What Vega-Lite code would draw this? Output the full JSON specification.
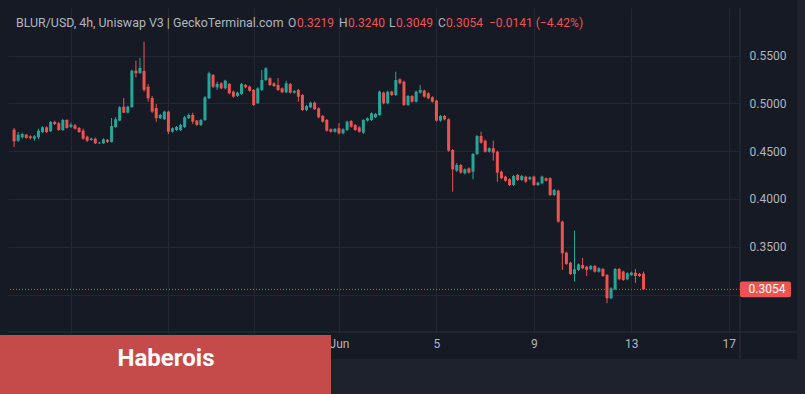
{
  "$schema": "https://vega.github.io/schema/vega-lite/v6.json",
  "width": 732,
  "height": 324,
  "autosize": {"type": "none"},
  "padding": {"left": 8, "top": 8, "right": 65, "bottom": 62},
  "background": "#161a25",
  "config": {
    "view": {"stroke": null, "fill": "#161a25"},
    "font": "Roboto",
    "axis": {"domain": false, "ticks": false, "gridColor": "#232733", "gridWidth": 1, "labelColor": "#b2b5be", "labelFontSize": 12, "labelFont": "Roboto", "title": null}
  },
  "datasets": {
    "candles": [
      {"t":"2023-05-18T16:00:00Z","o":0.4724,"h":0.4742,"l":0.4543,"c":0.4603},
      {"t":"2023-05-18T20:00:00Z","o":0.4609,"h":0.4700,"l":0.4596,"c":0.4672},
      {"t":"2023-05-19T00:00:00Z","o":0.4645,"h":0.4693,"l":0.4630,"c":0.4679},
      {"t":"2023-05-19T04:00:00Z","o":0.4672,"h":0.4679,"l":0.4630,"c":0.4638},
      {"t":"2023-05-19T08:00:00Z","o":0.4655,"h":0.4665,"l":0.4620,"c":0.4638},
      {"t":"2023-05-19T12:00:00Z","o":0.4630,"h":0.4666,"l":0.4609,"c":0.4655},
      {"t":"2023-05-19T16:00:00Z","o":0.4645,"h":0.4735,"l":0.4624,"c":0.4714},
      {"t":"2023-05-19T20:00:00Z","o":0.4700,"h":0.4760,"l":0.4690,"c":0.4749},
      {"t":"2023-05-20T00:00:00Z","o":0.4749,"h":0.4760,"l":0.4690,"c":0.4700},
      {"t":"2023-05-20T04:00:00Z","o":0.4708,"h":0.4815,"l":0.4700,"c":0.4805},
      {"t":"2023-05-20T08:00:00Z","o":0.4805,"h":0.4818,"l":0.4774,"c":0.4784},
      {"t":"2023-05-20T12:00:00Z","o":0.4791,"h":0.4805,"l":0.4711,"c":0.4721},
      {"t":"2023-05-20T16:00:00Z","o":0.4721,"h":0.4836,"l":0.4711,"c":0.4826},
      {"t":"2023-05-20T20:00:00Z","o":0.4826,"h":0.4833,"l":0.4735,"c":0.4742},
      {"t":"2023-05-21T00:00:00Z","o":0.4753,"h":0.4798,"l":0.4742,"c":0.4777},
      {"t":"2023-05-21T04:00:00Z","o":0.4770,"h":0.4784,"l":0.4725,"c":0.4735},
      {"t":"2023-05-21T08:00:00Z","o":0.4742,"h":0.4753,"l":0.4690,"c":0.4700},
      {"t":"2023-05-21T12:00:00Z","o":0.4714,"h":0.4735,"l":0.4617,"c":0.4630},
      {"t":"2023-05-21T16:00:00Z","o":0.4651,"h":0.4662,"l":0.4596,"c":0.4609},
      {"t":"2023-05-21T20:00:00Z","o":0.4617,"h":0.4641,"l":0.4606,"c":0.4630},
      {"t":"2023-05-22T00:00:00Z","o":0.4630,"h":0.4641,"l":0.4575,"c":0.4582},
      {"t":"2023-05-22T04:00:00Z","o":0.4582,"h":0.4596,"l":0.4575,"c":0.4589},
      {"t":"2023-05-22T08:00:00Z","o":0.4582,"h":0.4634,"l":0.4575,"c":0.4624},
      {"t":"2023-05-22T12:00:00Z","o":0.4617,"h":0.4627,"l":0.4585,"c":0.4596},
      {"t":"2023-05-22T16:00:00Z","o":0.4596,"h":0.4847,"l":0.4589,"c":0.4763},
      {"t":"2023-05-22T20:00:00Z","o":0.4753,"h":0.4854,"l":0.4742,"c":0.4833},
      {"t":"2023-05-23T00:00:00Z","o":0.4819,"h":0.4970,"l":0.4812,"c":0.4959},
      {"t":"2023-05-23T04:00:00Z","o":0.4965,"h":0.5056,"l":0.4899,"c":0.4902},
      {"t":"2023-05-23T08:00:00Z","o":0.4902,"h":0.4975,"l":0.4895,"c":0.4965},
      {"t":"2023-05-23T12:00:00Z","o":0.4959,"h":0.5352,"l":0.4955,"c":0.5341},
      {"t":"2023-05-23T16:00:00Z","o":0.5341,"h":0.5446,"l":0.5272,"c":0.5314},
      {"t":"2023-05-23T20:00:00Z","o":0.5317,"h":0.5474,"l":0.5307,"c":0.5370},
      {"t":"2023-05-24T00:00:00Z","o":0.5338,"h":0.5645,"l":0.5122,"c":0.5140},
      {"t":"2023-05-24T04:00:00Z","o":0.5174,"h":0.5202,"l":0.5017,"c":0.5053},
      {"t":"2023-05-24T08:00:00Z","o":0.5056,"h":0.5077,"l":0.4899,"c":0.4913},
      {"t":"2023-05-24T12:00:00Z","o":0.4951,"h":0.4993,"l":0.4808,"c":0.4844},
      {"t":"2023-05-24T16:00:00Z","o":0.4844,"h":0.4889,"l":0.4836,"c":0.4878},
      {"t":"2023-05-24T20:00:00Z","o":0.4833,"h":0.4923,"l":0.4826,"c":0.4913},
      {"t":"2023-05-25T00:00:00Z","o":0.4913,"h":0.4923,"l":0.4679,"c":0.4703},
      {"t":"2023-05-25T04:00:00Z","o":0.4703,"h":0.4749,"l":0.4693,"c":0.4739},
      {"t":"2023-05-25T08:00:00Z","o":0.4721,"h":0.4763,"l":0.4711,"c":0.4753},
      {"t":"2023-05-25T12:00:00Z","o":0.4721,"h":0.4784,"l":0.4711,"c":0.4774},
      {"t":"2023-05-25T16:00:00Z","o":0.4753,"h":0.4868,"l":0.4742,"c":0.4854},
      {"t":"2023-05-25T20:00:00Z","o":0.4844,"h":0.4895,"l":0.4836,"c":0.4878},
      {"t":"2023-05-26T00:00:00Z","o":0.4878,"h":0.4902,"l":0.4784,"c":0.4808},
      {"t":"2023-05-26T04:00:00Z","o":0.4819,"h":0.4826,"l":0.4763,"c":0.4774},
      {"t":"2023-05-26T08:00:00Z","o":0.4774,"h":0.4836,"l":0.4763,"c":0.4826},
      {"t":"2023-05-26T12:00:00Z","o":0.4826,"h":0.5074,"l":0.4815,"c":0.5063},
      {"t":"2023-05-26T16:00:00Z","o":0.5053,"h":0.5331,"l":0.5045,"c":0.5314},
      {"t":"2023-05-26T20:00:00Z","o":0.5296,"h":0.5307,"l":0.5160,"c":0.5174},
      {"t":"2023-05-27T00:00:00Z","o":0.5167,"h":0.5226,"l":0.5140,"c":0.5202},
      {"t":"2023-05-27T04:00:00Z","o":0.5209,"h":0.5220,"l":0.5146,"c":0.5157},
      {"t":"2023-05-27T08:00:00Z","o":0.5157,"h":0.5247,"l":0.5146,"c":0.5237},
      {"t":"2023-05-27T12:00:00Z","o":0.5202,"h":0.5213,"l":0.5094,"c":0.5105},
      {"t":"2023-05-27T16:00:00Z","o":0.5122,"h":0.5133,"l":0.5059,"c":0.5070},
      {"t":"2023-05-27T20:00:00Z","o":0.5077,"h":0.5122,"l":0.5066,"c":0.5111},
      {"t":"2023-05-28T00:00:00Z","o":0.5098,"h":0.5213,"l":0.5087,"c":0.5202},
      {"t":"2023-05-28T04:00:00Z","o":0.5192,"h":0.5202,"l":0.5157,"c":0.5168},
      {"t":"2023-05-28T08:00:00Z","o":0.5174,"h":0.5185,"l":0.5122,"c":0.5132},
      {"t":"2023-05-28T12:00:00Z","o":0.5140,"h":0.5150,"l":0.4972,"c":0.4983},
      {"t":"2023-05-28T16:00:00Z","o":0.5000,"h":0.5167,"l":0.4993,"c":0.5157},
      {"t":"2023-05-28T20:00:00Z","o":0.5140,"h":0.5349,"l":0.5129,"c":0.5244},
      {"t":"2023-05-29T00:00:00Z","o":0.5244,"h":0.5377,"l":0.5234,"c":0.5367},
      {"t":"2023-05-29T04:00:00Z","o":0.5262,"h":0.5272,"l":0.5181,"c":0.5192},
      {"t":"2023-05-29T08:00:00Z","o":0.5209,"h":0.5220,"l":0.5171,"c":0.5181},
      {"t":"2023-05-29T12:00:00Z","o":0.5192,"h":0.5265,"l":0.5129,"c":0.5140},
      {"t":"2023-05-29T16:00:00Z","o":0.5157,"h":0.5167,"l":0.5108,"c":0.5116},
      {"t":"2023-05-29T20:00:00Z","o":0.5116,"h":0.5237,"l":0.5105,"c":0.5209},
      {"t":"2023-05-30T00:00:00Z","o":0.5202,"h":0.5213,"l":0.5101,"c":0.5112},
      {"t":"2023-05-30T04:00:00Z","o":0.5112,"h":0.5140,"l":0.5101,"c":0.5129},
      {"t":"2023-05-30T08:00:00Z","o":0.5140,"h":0.5150,"l":0.5017,"c":0.5070},
      {"t":"2023-05-30T12:00:00Z","o":0.5087,"h":0.5098,"l":0.4920,"c":0.4930},
      {"t":"2023-05-30T16:00:00Z","o":0.4930,"h":0.4983,"l":0.4920,"c":0.4972},
      {"t":"2023-05-30T20:00:00Z","o":0.4958,"h":0.5017,"l":0.4951,"c":0.5007},
      {"t":"2023-05-31T00:00:00Z","o":0.5007,"h":0.5017,"l":0.4930,"c":0.4938},
      {"t":"2023-05-31T04:00:00Z","o":0.4948,"h":0.4958,"l":0.4844,"c":0.4854},
      {"t":"2023-05-31T08:00:00Z","o":0.4868,"h":0.4878,"l":0.4798,"c":0.4808},
      {"t":"2023-05-31T12:00:00Z","o":0.4826,"h":0.4836,"l":0.4703,"c":0.4714},
      {"t":"2023-05-31T16:00:00Z","o":0.4728,"h":0.4739,"l":0.4693,"c":0.4703},
      {"t":"2023-05-31T20:00:00Z","o":0.4703,"h":0.4742,"l":0.4693,"c":0.4732},
      {"t":"2023-06-01T00:00:00Z","o":0.4739,"h":0.4794,"l":0.4675,"c":0.4686},
      {"t":"2023-06-01T04:00:00Z","o":0.4686,"h":0.4739,"l":0.4675,"c":0.4728},
      {"t":"2023-06-01T08:00:00Z","o":0.4721,"h":0.4819,"l":0.4711,"c":0.4808},
      {"t":"2023-06-01T12:00:00Z","o":0.4815,"h":0.4826,"l":0.4745,"c":0.4756},
      {"t":"2023-06-01T16:00:00Z","o":0.4774,"h":0.4784,"l":0.4711,"c":0.4721},
      {"t":"2023-06-01T20:00:00Z","o":0.4749,"h":0.4760,"l":0.4693,"c":0.4703},
      {"t":"2023-06-02T00:00:00Z","o":0.4693,"h":0.4836,"l":0.4679,"c":0.4826},
      {"t":"2023-06-02T04:00:00Z","o":0.4819,"h":0.4854,"l":0.4808,"c":0.4844},
      {"t":"2023-06-02T08:00:00Z","o":0.4826,"h":0.4906,"l":0.4815,"c":0.4896},
      {"t":"2023-06-02T12:00:00Z","o":0.4854,"h":0.4899,"l":0.4844,"c":0.4889},
      {"t":"2023-06-02T16:00:00Z","o":0.4878,"h":0.5133,"l":0.4868,"c":0.5122},
      {"t":"2023-06-02T20:00:00Z","o":0.5111,"h":0.5122,"l":0.4990,"c":0.5000},
      {"t":"2023-06-03T00:00:00Z","o":0.5000,"h":0.5133,"l":0.4990,"c":0.5122},
      {"t":"2023-06-03T04:00:00Z","o":0.5122,"h":0.5133,"l":0.5077,"c":0.5087},
      {"t":"2023-06-03T08:00:00Z","o":0.5087,"h":0.5331,"l":0.5077,"c":0.5244},
      {"t":"2023-06-03T12:00:00Z","o":0.5251,"h":0.5262,"l":0.5199,"c":0.5210},
      {"t":"2023-06-03T16:00:00Z","o":0.5226,"h":0.5237,"l":0.4972,"c":0.4983},
      {"t":"2023-06-03T20:00:00Z","o":0.4983,"h":0.5087,"l":0.4972,"c":0.5077},
      {"t":"2023-06-04T00:00:00Z","o":0.5077,"h":0.5087,"l":0.5007,"c":0.5017},
      {"t":"2023-06-04T04:00:00Z","o":0.5017,"h":0.5133,"l":0.5007,"c":0.5122},
      {"t":"2023-06-04T08:00:00Z","o":0.5112,"h":0.5192,"l":0.5101,"c":0.5140},
      {"t":"2023-06-04T12:00:00Z","o":0.5133,"h":0.5143,"l":0.5059,"c":0.5070},
      {"t":"2023-06-04T16:00:00Z","o":0.5105,"h":0.5115,"l":0.5042,"c":0.5053},
      {"t":"2023-06-04T20:00:00Z","o":0.5063,"h":0.5074,"l":0.5007,"c":0.5017},
      {"t":"2023-06-05T00:00:00Z","o":0.5028,"h":0.5038,"l":0.4808,"c":0.4819},
      {"t":"2023-06-05T04:00:00Z","o":0.4819,"h":0.4878,"l":0.4808,"c":0.4868},
      {"t":"2023-06-05T08:00:00Z","o":0.4868,"h":0.4878,"l":0.4822,"c":0.4833},
      {"t":"2023-06-05T12:00:00Z","o":0.4833,"h":0.4843,"l":0.4494,"c":0.4505},
      {"t":"2023-06-05T16:00:00Z","o":0.4512,"h":0.4522,"l":0.4076,"c":0.4310},
      {"t":"2023-06-05T20:00:00Z","o":0.4296,"h":0.4376,"l":0.4282,"c":0.4355},
      {"t":"2023-06-06T00:00:00Z","o":0.4355,"h":0.4366,"l":0.4264,"c":0.4275},
      {"t":"2023-06-06T04:00:00Z","o":0.4268,"h":0.4320,"l":0.4254,"c":0.4310},
      {"t":"2023-06-06T08:00:00Z","o":0.4320,"h":0.4331,"l":0.4264,"c":0.4275},
      {"t":"2023-06-06T12:00:00Z","o":0.4285,"h":0.4480,"l":0.4206,"c":0.4470},
      {"t":"2023-06-06T16:00:00Z","o":0.4470,"h":0.4669,"l":0.4459,"c":0.4658},
      {"t":"2023-06-06T20:00:00Z","o":0.4658,"h":0.4703,"l":0.4578,"c":0.4588},
      {"t":"2023-06-07T00:00:00Z","o":0.4609,"h":0.4620,"l":0.4484,"c":0.4494},
      {"t":"2023-06-07T04:00:00Z","o":0.4494,"h":0.4540,"l":0.4484,"c":0.4530},
      {"t":"2023-06-07T08:00:00Z","o":0.4530,"h":0.4609,"l":0.4400,"c":0.4484},
      {"t":"2023-06-07T12:00:00Z","o":0.4494,"h":0.4505,"l":0.4180,"c":0.4275},
      {"t":"2023-06-07T16:00:00Z","o":0.4285,"h":0.4296,"l":0.4206,"c":0.4216},
      {"t":"2023-06-07T20:00:00Z","o":0.4233,"h":0.4243,"l":0.4180,"c":0.4191},
      {"t":"2023-06-08T00:00:00Z","o":0.4206,"h":0.4216,"l":0.4135,"c":0.4146},
      {"t":"2023-06-08T04:00:00Z","o":0.4146,"h":0.4251,"l":0.4135,"c":0.4240},
      {"t":"2023-06-08T08:00:00Z","o":0.4251,"h":0.4261,"l":0.4188,"c":0.4198},
      {"t":"2023-06-08T12:00:00Z","o":0.4198,"h":0.4251,"l":0.4188,"c":0.4240},
      {"t":"2023-06-08T16:00:00Z","o":0.4233,"h":0.4243,"l":0.4170,"c":0.4181},
      {"t":"2023-06-08T20:00:00Z","o":0.4206,"h":0.4237,"l":0.4195,"c":0.4226},
      {"t":"2023-06-09T00:00:00Z","o":0.4233,"h":0.4243,"l":0.4135,"c":0.4146},
      {"t":"2023-06-09T04:00:00Z","o":0.4146,"h":0.4181,"l":0.4135,"c":0.4170},
      {"t":"2023-06-09T08:00:00Z","o":0.4164,"h":0.4243,"l":0.4153,"c":0.4233},
      {"t":"2023-06-09T12:00:00Z","o":0.4216,"h":0.4226,"l":0.4181,"c":0.4191},
      {"t":"2023-06-09T16:00:00Z","o":0.4216,"h":0.4226,"l":0.4031,"c":0.4041},
      {"t":"2023-06-09T20:00:00Z","o":0.4041,"h":0.4104,"l":0.4031,"c":0.4094},
      {"t":"2023-06-10T00:00:00Z","o":0.4086,"h":0.4097,"l":0.3751,"c":0.3762},
      {"t":"2023-06-10T04:00:00Z","o":0.3762,"h":0.3772,"l":0.3257,"c":0.3431},
      {"t":"2023-06-10T08:00:00Z","o":0.3438,"h":0.3448,"l":0.3309,"c":0.3320},
      {"t":"2023-06-10T12:00:00Z","o":0.3333,"h":0.3343,"l":0.3204,"c":0.3215},
      {"t":"2023-06-10T16:00:00Z","o":0.3215,"h":0.3668,"l":0.3134,"c":0.3264},
      {"t":"2023-06-10T20:00:00Z","o":0.3257,"h":0.3327,"l":0.3247,"c":0.3316},
      {"t":"2023-06-11T00:00:00Z","o":0.3309,"h":0.3382,"l":0.3264,"c":0.3274},
      {"t":"2023-06-11T04:00:00Z","o":0.3291,"h":0.3301,"l":0.3194,"c":0.3257},
      {"t":"2023-06-11T08:00:00Z","o":0.3264,"h":0.3309,"l":0.3254,"c":0.3299},
      {"t":"2023-06-11T12:00:00Z","o":0.3299,"h":0.3309,"l":0.3229,"c":0.3239},
      {"t":"2023-06-11T16:00:00Z","o":0.3239,"h":0.3285,"l":0.3229,"c":0.3274},
      {"t":"2023-06-11T20:00:00Z","o":0.3267,"h":0.3278,"l":0.3184,"c":0.3194},
      {"t":"2023-06-12T00:00:00Z","o":0.3205,"h":0.3215,"l":0.2909,"c":0.2961},
      {"t":"2023-06-12T04:00:00Z","o":0.2961,"h":0.3076,"l":0.2951,"c":0.3065},
      {"t":"2023-06-12T08:00:00Z","o":0.3055,"h":0.3278,"l":0.3045,"c":0.3267},
      {"t":"2023-06-12T12:00:00Z","o":0.3267,"h":0.3278,"l":0.3149,"c":0.3160},
      {"t":"2023-06-12T16:00:00Z","o":0.3240,"h":0.3250,"l":0.3142,"c":0.3152},
      {"t":"2023-06-12T20:00:00Z","o":0.3160,"h":0.3233,"l":0.3149,"c":0.3222},
      {"t":"2023-06-13T00:00:00Z","o":0.3205,"h":0.3240,"l":0.3194,"c":0.3229},
      {"t":"2023-06-13T04:00:00Z","o":0.3229,"h":0.3267,"l":0.3121,"c":0.3194},
      {"t":"2023-06-13T08:00:00Z","o":0.3215,"h":0.3225,"l":0.3184,"c":0.3194},
      {"t":"2023-06-13T12:00:00Z","o":0.3219,"h":0.3240,"l":0.3049,"c":0.3054}
    ]
  },
  "layer": [
    {
      "data": {"name": "candles"},
      "mark": {"type": "rule", "strokeWidth": 1},
      "encoding": {
        "x": {
          "field": "t", "type": "temporal",
          "scale": {"type": "utc", "nice": false, "padding": 0, "domain": [{"year": 2023, "month": "May", "date": 18, "hours": 10, "utc": true}, {"year": 2023, "month": "Jun", "date": 17, "hours": 11, "utc": true}]},
          "axis": {
            "orient": "bottom", "grid": true, "labelPadding": 6, "labelOverlap": false, "labelFlush": false,
            "values": [
              {"year": 2023, "month": "May", "date": 21, "utc": true},
              {"year": 2023, "month": "May", "date": 25, "utc": true},
              {"year": 2023, "month": "May", "date": 28, "hours": 12, "utc": true},
              {"year": 2023, "month": "Jun", "date": 1, "utc": true},
              {"year": 2023, "month": "Jun", "date": 5, "utc": true},
              {"year": 2023, "month": "Jun", "date": 9, "utc": true},
              {"year": 2023, "month": "Jun", "date": 13, "utc": true},
              {"year": 2023, "month": "Jun", "date": 17, "utc": true}
            ],
            "labelExpr": "utcmonth(datum.value) == 4 ? '' : (utcdate(datum.value) == 1 ? utcFormat(datum.value, '%b') : utcFormat(datum.value, '%-d'))"
          }
        },
        "y": {
          "field": "l", "type": "quantitative",
          "scale": {"domain": [0.2608, 0.5997], "nice": false, "zero": false},
          "axis": {"orient": "right", "grid": true, "labelPadding": 9, "values": [0.30, 0.35, 0.40, 0.45, 0.50, 0.55], "labelExpr": "datum.value < 0.31 ? '' : format(datum.value, '.4f')"}
        },
        "y2": {"field": "h"},
        "color": {"condition": {"test": "datum.c >= datum.o", "value": "#26a69a"}, "value": "#ef5350"}
      }
    },
    {
      "data": {"name": "candles"},
      "mark": {"type": "bar", "width": 3},
      "encoding": {
        "x": {"field": "t", "type": "temporal"},
        "y": {"field": "o", "type": "quantitative"},
        "y2": {"field": "c"},
        "color": {"condition": {"test": "datum.c >= datum.o", "value": "#26a69a"}, "value": "#ef5350"}
      }
    },
    {
      "data": {"values": [{}]},
      "mark": {"type": "rule", "color": "#ef5350", "strokeWidth": 1, "strokeDash": [1, 2]},
      "encoding": {"y": {"datum": 0.3054, "type": "quantitative"}}
    },
    {
      "data": {"values": [{}]},
      "mark": {"type": "rect", "color": "#1e222d"},
      "encoding": {
        "x": {"datum": {"year": 2023, "month": "May", "date": 17, "hours": 16, "utc": true}, "type": "temporal"},
        "x2": {"datum": {"year": 2023, "month": "Jun", "date": 20, "hours": 13, "utc": true}},
        "y": {"datum": 0.2326, "type": "quantitative"},
        "y2": {"datum": 0.1897}
      }
    },
    {
      "data": {"values": [{}]},
      "mark": {"type": "rect", "color": "#1e222d"},
      "encoding": {
        "x": {"datum": {"year": 2023, "month": "Jun", "date": 19, "hours": 19, "minutes": 10, "utc": true}, "type": "temporal"},
        "x2": {"datum": {"year": 2023, "month": "Jun", "date": 20, "hours": 13, "utc": true}},
        "y": {"datum": 0.6186, "type": "quantitative"},
        "y2": {"datum": 0.1897}
      }
    },
    {
      "data": {"values": [{}]},
      "mark": {"type": "rule", "color": "#2a2e39", "strokeWidth": 1},
      "encoding": {
        "x": {"datum": {"year": 2023, "month": "May", "date": 18, "hours": 10, "utc": true}, "type": "temporal"},
        "x2": {"datum": {"year": 2023, "month": "Jun", "date": 19, "hours": 19, "minutes": 10, "utc": true}},
        "y": {"datum": 0.2608, "type": "quantitative"}
      }
    },
    {
      "data": {"values": [{}]},
      "mark": {"type": "rule", "color": "#2a2e39", "strokeWidth": 1},
      "encoding": {
        "x": {"datum": {"year": 2023, "month": "Jun", "date": 17, "hours": 11, "utc": true}, "type": "temporal"},
        "y": {"datum": 0.5997, "type": "quantitative"},
        "y2": {"datum": 0.2326}
      }
    },
    {
      "data": {"values": [{}]},
      "mark": {"type": "rect", "color": "#ef5350", "cornerRadius": 2},
      "encoding": {
        "x": {"datum": {"year": 2023, "month": "Jun", "date": 17, "hours": 11, "utc": true}, "type": "temporal"},
        "x2": {"datum": {"year": 2023, "month": "Jun", "date": 19, "hours": 13, "minutes": 12, "utc": true}},
        "y": {"datum": 0.3137, "type": "quantitative"},
        "y2": {"datum": 0.2971}
      }
    },
    {
      "data": {"values": [{}]},
      "mark": {"type": "text", "text": "0.3054", "color": "#ffffff", "fontSize": 12, "font": "Roboto", "align": "center", "baseline": "middle"},
      "encoding": {
        "x": {"datum": {"year": 2023, "month": "Jun", "date": 18, "hours": 13, "minutes": 36, "utc": true}, "type": "temporal"},
        "y": {"datum": 0.3054, "type": "quantitative"}
      }
    },
    {
      "data": {"values": [{}]},
      "mark": {"type": "rect", "color": "#c54b4b"},
      "encoding": {
        "x": {"datum": {"year": 2023, "month": "May", "date": 17, "hours": 16, "utc": true}, "type": "temporal"},
        "x2": {"datum": {"year": 2023, "month": "May", "date": 31, "hours": 16, "minutes": 10, "utc": true}},
        "y": {"datum": 0.2577, "type": "quantitative"},
        "y2": {"datum": 0.1897}
      }
    },
    {
      "data": {"values": [{}]},
      "mark": {"type": "text", "text": "Haberois", "color": "#ffffff", "fontSize": 24, "fontWeight": "bold", "font": "Roboto", "align": "center", "baseline": "middle"},
      "encoding": {
        "x": {"datum": {"year": 2023, "month": "May", "date": 24, "hours": 21, "minutes": 38, "utc": true}, "type": "temporal"},
        "y": {"datum": 0.2326, "type": "quantitative"}
      }
    },
    {
      "data": {"values": [{}]},
      "mark": {"type": "text", "text": "BLUR/USD, 4h, Uniswap V3 | GeckoTerminal.com", "color": "#b2b5be", "fontSize": 12.4, "font": "Roboto", "align": "left", "baseline": "middle"},
      "encoding": {
        "x": {"datum": {"year": 2023, "month": "May", "date": 18, "hours": 17, "minutes": 53, "utc": true}, "type": "temporal"},
        "y": {"datum": 0.5835, "type": "quantitative"}
      }
    },
    {
      "data": {"values": [{}]},
      "mark": {"type": "text", "text": "O", "color": "#b2b5be", "fontSize": 12, "font": "Roboto", "align": "left", "baseline": "middle"},
      "encoding": {
        "x": {"datum": {"year": 2023, "month": "May", "date": 29, "hours": 21, "minutes": 48, "utc": true}, "type": "temporal"},
        "y": {"datum": 0.5835, "type": "quantitative"}
      }
    },
    {
      "data": {"values": [{}]},
      "mark": {"type": "text", "text": "0.3219", "color": "#ef5350", "fontSize": 12, "font": "Roboto", "align": "left", "baseline": "middle"},
      "encoding": {
        "x": {"datum": {"year": 2023, "month": "May", "date": 30, "hours": 6, "minutes": 40, "utc": true}, "type": "temporal"},
        "y": {"datum": 0.5835, "type": "quantitative"}
      }
    },
    {
      "data": {"values": [{}]},
      "mark": {"type": "text", "text": "H", "color": "#b2b5be", "fontSize": 12, "font": "Roboto", "align": "left", "baseline": "middle"},
      "encoding": {
        "x": {"datum": {"year": 2023, "month": "Jun", "date": 1, "hours": 0, "minutes": 2, "utc": true}, "type": "temporal"},
        "y": {"datum": 0.5835, "type": "quantitative"}
      }
    },
    {
      "data": {"values": [{}]},
      "mark": {"type": "text", "text": "0.3240", "color": "#ef5350", "fontSize": 12, "font": "Roboto", "align": "left", "baseline": "middle"},
      "encoding": {
        "x": {"datum": {"year": 2023, "month": "Jun", "date": 1, "hours": 8, "minutes": 54, "utc": true}, "type": "temporal"},
        "y": {"datum": 0.5835, "type": "quantitative"}
      }
    },
    {
      "data": {"values": [{}]},
      "mark": {"type": "text", "text": "L", "color": "#b2b5be", "fontSize": 12, "font": "Roboto", "align": "left", "baseline": "middle"},
      "encoding": {
        "x": {"datum": {"year": 2023, "month": "Jun", "date": 3, "hours": 1, "minutes": 17, "utc": true}, "type": "temporal"},
        "y": {"datum": 0.5835, "type": "quantitative"}
      }
    },
    {
      "data": {"values": [{}]},
      "mark": {"type": "text", "text": "0.3049", "color": "#ef5350", "fontSize": 12, "font": "Roboto", "align": "left", "baseline": "middle"},
      "encoding": {
        "x": {"datum": {"year": 2023, "month": "Jun", "date": 3, "hours": 8, "minutes": 11, "utc": true}, "type": "temporal"},
        "y": {"datum": 0.5835, "type": "quantitative"}
      }
    },
    {
      "data": {"values": [{}]},
      "mark": {"type": "text", "text": "C", "color": "#b2b5be", "fontSize": 12, "font": "Roboto", "align": "left", "baseline": "middle"},
      "encoding": {
        "x": {"datum": {"year": 2023, "month": "Jun", "date": 5, "hours": 1, "minutes": 33, "utc": true}, "type": "temporal"},
        "y": {"datum": 0.5835, "type": "quantitative"}
      }
    },
    {
      "data": {"values": [{}]},
      "mark": {"type": "text", "text": "0.3054", "color": "#ef5350", "fontSize": 12, "font": "Roboto", "align": "left", "baseline": "middle"},
      "encoding": {
        "x": {"datum": {"year": 2023, "month": "Jun", "date": 5, "hours": 9, "minutes": 26, "utc": true}, "type": "temporal"},
        "y": {"datum": 0.5835, "type": "quantitative"}
      }
    },
    {
      "data": {"values": [{}]},
      "mark": {"type": "text", "text": "−0.0141 (−4.42%)", "color": "#ef5350", "fontSize": 12, "font": "Roboto", "align": "left", "baseline": "middle"},
      "encoding": {
        "x": {"datum": {"year": 2023, "month": "Jun", "date": 7, "hours": 3, "minutes": 47, "utc": true}, "type": "temporal"},
        "y": {"datum": 0.5835, "type": "quantitative"}
      }
    }
  ]
}
